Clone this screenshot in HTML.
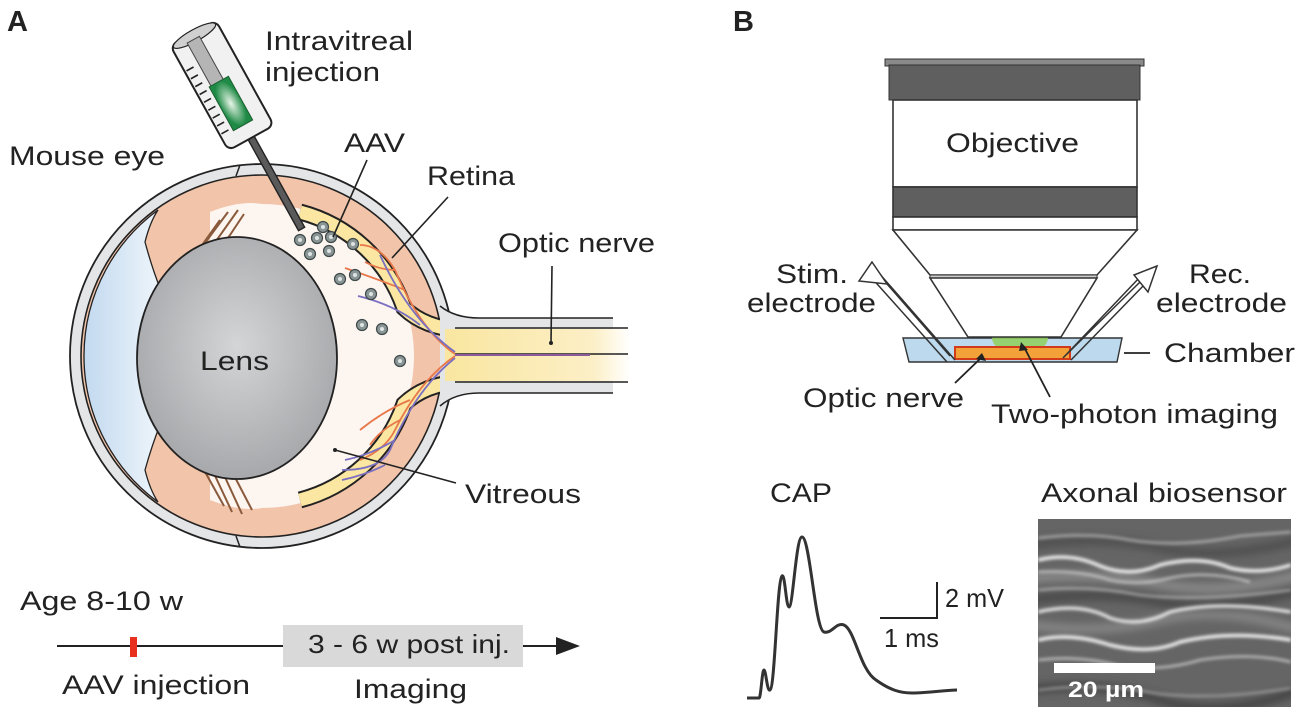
<!DOCTYPE html>
<html><head><meta charset="utf-8"><style>
html,body{margin:0;padding:0;background:#fff;}
svg{display:block;}
text{font-family:"Liberation Sans",Arial,sans-serif;fill:#222;}
</style></head><body>
<svg width="1300" height="716" viewBox="0 0 1300 716" xmlns="http://www.w3.org/2000/svg">
<defs>
<radialGradient id="lensG" cx="0.5" cy="0.45" r="0.6"><stop offset="0" stop-color="#d4d5d7"/><stop offset="1" stop-color="#a3a4a7"/></radialGradient>
<linearGradient id="blueG" x1="0" x2="1"><stop offset="0" stop-color="#c2d9ef"/><stop offset="1" stop-color="#eef5fb"/></linearGradient>
<linearGradient id="nerveG" x1="0" x2="1"><stop offset="0" stop-color="#f9e6a0"/><stop offset="0.8" stop-color="#fcefc6"/><stop offset="1" stop-color="#fff"/></linearGradient>
<radialGradient id="greenG" cx="0.5" cy="0.5" r="0.5"><stop offset="0" stop-color="#e8f5e8"/><stop offset="1" stop-color="#1e8a45"/></radialGradient>
<clipPath id="vitClip"><rect x="235" y="150" width="300" height="420"/></clipPath>
<clipPath id="imgClip"><rect x="1038" y="519" width="253" height="188"/></clipPath>
<filter id="blur1"><feGaussianBlur stdDeviation="1.6"/></filter>
<filter id="blur2"><feGaussianBlur stdDeviation="4"/></filter>
<g id="aav"><circle r="5.5" fill="#8a9596" stroke="#3e4849" stroke-width="1.2"/><circle r="2" fill="#dfe5e5"/></g>
</defs>

<text x="7" y="31" font-size="29" font-weight="bold" fill="#111">A</text>
<text x="733" y="31" font-size="29" font-weight="bold" fill="#111">B</text>

<!-- EYE -->
<circle cx="262" cy="356" r="192" fill="#e4e5e7" stroke="#222" stroke-width="1.8"/>
<circle cx="262" cy="356" r="181" fill="#f2c4a9" stroke="#222" stroke-width="1.6"/>
<circle cx="262" cy="356" r="152" fill="#fdf5f0" clip-path="url(#vitClip)"/>
<path d="M210 212 Q240 200 262 204 L262 508 Q240 512 210 500Z" fill="#fdf5f0"/>
<path d="M158 210 A181 181 0 0 0 158 502 Q150 490 145 470 Q152 445 160 425 Q148 390 150 356 Q148 320 160 288 Q152 268 145 242 Q150 222 158 210Z" fill="url(#blueG)" stroke="#222" stroke-width="1.3"/>
<line x1="240" y1="165" x2="236" y2="176" stroke="#222" stroke-width="1.5"/>
<line x1="240" y1="547" x2="236" y2="536" stroke="#222" stroke-width="1.5"/>
<!-- zonules -->
<g stroke="#8a5a3c" stroke-width="2" fill="none">
<path d="M196 255 L228 212 M204 258 L238 210 M212 262 L244 214 M190 262 L220 220"/>
<path d="M210 465 L232 512 M218 462 L242 514 M226 460 L252 510 M204 470 L224 506"/>
</g>
<!-- retina band -->
<path d="M300 212 A150 150 0 0 1 404 308 Q425 328 460 330" fill="none" stroke="#222" stroke-width="17"/>
<path d="M300 212 A150 150 0 0 1 404 308 Q425 328 460 330" fill="none" stroke="#fbe7a1" stroke-width="13"/>
<path d="M300 500 A150 150 0 0 0 404 404 Q425 384 460 382" fill="none" stroke="#222" stroke-width="17"/>
<path d="M300 500 A150 150 0 0 0 404 404 Q425 384 460 382" fill="none" stroke="#fbe7a1" stroke-width="13"/>
<!-- optic nerve -->
<path d="M440 306 Q455 318 479 318 L613 318 L613 393 L479 393 Q455 393 440 406Z" fill="#e4e5e7"/>
<line x1="479" y1="318" x2="613" y2="318" stroke="#222" stroke-width="1.6"/>
<line x1="479" y1="393" x2="613" y2="393" stroke="#222" stroke-width="1.6"/>
<path d="M440 306 Q455 318 479 318" fill="none" stroke="#222" stroke-width="1.6"/>
<path d="M440 406 Q455 393 479 393" fill="none" stroke="#222" stroke-width="1.6"/>
<rect x="445" y="329" width="185" height="52" fill="url(#nerveG)"/>
<line x1="455" y1="328" x2="628" y2="328" stroke="#222" stroke-width="1.6"/>
<line x1="455" y1="382" x2="628" y2="382" stroke="#222" stroke-width="1.6"/>
<line x1="455" y1="354" x2="628" y2="354" stroke="#222" stroke-width="1.4"/>
<line x1="455" y1="355" x2="590" y2="355" stroke="#8a5a9a" stroke-width="2"/>
<g fill="none" stroke-width="1.8">
<path d="M455 354 Q420 330 395 270 Q380 245 360 245" stroke="#e8774a"/>
<path d="M395 270 Q380 270 365 262 M405 290 Q380 280 345 268" stroke="#e8774a"/>
<path d="M455 352 Q410 320 380 255" stroke="#7a6fc0"/>
<path d="M420 325 Q395 305 358 296" stroke="#7a6fc0"/>
<path d="M455 356 Q420 380 395 430 Q385 450 360 460" stroke="#e8774a"/>
<path d="M410 400 Q385 410 360 430 M400 420 Q380 430 370 445" stroke="#e8774a"/>
<path d="M455 358 Q415 390 390 450 Q380 470 342 470" stroke="#7a6fc0"/>
<path d="M395 440 Q370 455 345 460 M385 465 Q365 475 342 480" stroke="#7a6fc0"/>
</g>
<ellipse cx="237" cy="358" rx="100" ry="121" fill="url(#lensG)" stroke="#222" stroke-width="1.8"/>
<text x="200" y="370" font-size="27" textLength="69" lengthAdjust="spacingAndGlyphs">Lens</text>
<use href="#aav" x="300" y="240"/><use href="#aav" x="317" y="238"/><use href="#aav" x="331" y="237"/>
<use href="#aav" x="323" y="227"/><use href="#aav" x="310" y="254"/><use href="#aav" x="329" y="251"/>
<use href="#aav" x="353" y="244"/><use href="#aav" x="340" y="279"/><use href="#aav" x="355" y="275"/>
<use href="#aav" x="371" y="294"/><use href="#aav" x="362" y="325"/><use href="#aav" x="382" y="329"/>
<use href="#aav" x="400" y="361"/>

<g transform="translate(193,33) rotate(-29)">
  <rect x="-3.5" y="118" width="7" height="106" fill="#5a5a5a" stroke="#222" stroke-width="1.4"/>
  <rect x="-26" y="0" width="52" height="120" rx="7" fill="#f1f1f1" stroke="#222" stroke-width="2"/>
  <ellipse cx="0" cy="3" rx="24" ry="6" fill="#d0d0d0" stroke="#222" stroke-width="1.2"/>
  <rect x="-10" y="6" width="14" height="52" fill="#b5b5b5" stroke="#444" stroke-width="1"/>
  <rect x="-12" y="55" width="22" height="50" fill="url(#greenG)" stroke="#1c5e30" stroke-width="1"/>
  <g stroke="#222" stroke-width="1.6">
  <line x1="-24" y1="30" x2="-16" y2="30"/><line x1="-24" y1="39" x2="-16" y2="39"/><line x1="-24" y1="48" x2="-16" y2="48"/>
  <line x1="-24" y1="57" x2="-16" y2="57"/><line x1="-24" y1="66" x2="-16" y2="66"/><line x1="-24" y1="75" x2="-16" y2="75"/>
  <line x1="-24" y1="84" x2="-16" y2="84"/><line x1="-24" y1="93" x2="-16" y2="93"/><line x1="-24" y1="102" x2="-16" y2="102"/>
  </g>
</g>

<text x="265" y="50" font-size="27" textLength="148" lengthAdjust="spacingAndGlyphs">Intravitreal</text>
<text x="265" y="81" font-size="27" textLength="115" lengthAdjust="spacingAndGlyphs">injection</text>
<text x="9" y="165" font-size="27" textLength="156" lengthAdjust="spacingAndGlyphs">Mouse eye</text>
<text x="344" y="152" font-size="27" textLength="61" lengthAdjust="spacingAndGlyphs">AAV</text>
<text x="427" y="185" font-size="27" textLength="88" lengthAdjust="spacingAndGlyphs">Retina</text>
<text x="498" y="252" font-size="27" textLength="157" lengthAdjust="spacingAndGlyphs">Optic nerve</text>
<text x="465" y="503" font-size="27" textLength="116" lengthAdjust="spacingAndGlyphs">Vitreous</text>
<g stroke="#222" stroke-width="1.6">
<line x1="367" y1="160" x2="333" y2="237"/>
<line x1="448" y1="197" x2="392" y2="258"/>
<line x1="552" y1="266" x2="551" y2="343"/>
<line x1="335" y1="450" x2="456" y2="483"/>
</g>
<circle cx="551" cy="343" r="2" fill="#222"/><circle cx="335" cy="450" r="2" fill="#222"/>

<text x="20" y="610" font-size="27" textLength="163" lengthAdjust="spacingAndGlyphs">Age 8-10 w</text>
<line x1="57" y1="646" x2="283" y2="646" stroke="#222" stroke-width="2"/>
<rect x="130" y="637" width="7" height="20" fill="#e8301e"/>
<rect x="283" y="625" width="240" height="42" fill="#d9d9d9"/>
<text x="308" y="653" font-size="26" textLength="202" lengthAdjust="spacingAndGlyphs">3 - 6 w post inj.</text>
<line x1="523" y1="646" x2="560" y2="646" stroke="#222" stroke-width="2"/>
<polygon points="556,637 580,646 556,655" fill="#222"/>
<text x="62" y="694" font-size="27" textLength="188" lengthAdjust="spacingAndGlyphs">AAV injection</text>
<text x="354" y="698" font-size="27" textLength="113" lengthAdjust="spacingAndGlyphs">Imaging</text>

<!-- OBJECTIVE -->
<rect x="885" y="59" width="259" height="7" fill="#8a8a8a" stroke="#333" stroke-width="1"/>
<rect x="889" y="65" width="251" height="35" fill="#5f5f60" stroke="#333" stroke-width="1"/>
<rect x="893" y="100" width="244" height="87" fill="#fff" stroke="#333" stroke-width="1.6"/>
<rect x="893" y="187" width="244" height="30" fill="#5f5f60" stroke="#333" stroke-width="1.6"/>
<rect x="893" y="217" width="244" height="13" fill="#fff" stroke="#333" stroke-width="1.6"/>
<polygon points="893,230 1137,230 1097,275 930,275" fill="#fff" stroke="#333" stroke-width="1.6"/>
<rect x="930" y="275" width="167" height="3" fill="#ccc" stroke="#333" stroke-width="1"/>
<text x="946" y="152" font-size="27" textLength="133" lengthAdjust="spacingAndGlyphs">Objective</text>

<polygon points="903,338 1122,338 1117,362 909,362" fill="#bcd9ee" stroke="#333" stroke-width="1.4"/>
<ellipse cx="1020" cy="338" rx="28" ry="16" fill="#8fcf5a" opacity="0.85"/>
<polygon points="955,347 1070,347 1070,359 955,359" fill="#f3a23a" stroke="#d23a1a" stroke-width="2"/>
<polygon points="930,278 1097,278 1061,337 968,337" fill="#fff" stroke="#333" stroke-width="1.6"/>
<g fill="none" stroke="#333" stroke-width="1.5">
<path d="M955 360 L878 272 M947 362 L870 276 M950 356 L880 276"/>
<polygon points="872,262 887,284 859,281" fill="#fff"/>
<path d="M1063 358 L1140 277 M1071 360 L1147 282 M1066 355 L1140 282"/>
<polygon points="1157,266 1134,275 1148,292" fill="#fff"/>
</g>
<text x="776" y="283" font-size="27" textLength="72" lengthAdjust="spacingAndGlyphs">Stim.</text>
<text x="747" y="312" font-size="27" textLength="129" lengthAdjust="spacingAndGlyphs">electrode</text>
<text x="1189" y="283" font-size="27" textLength="62" lengthAdjust="spacingAndGlyphs">Rec.</text>
<text x="1156" y="312" font-size="27" textLength="131" lengthAdjust="spacingAndGlyphs">electrode</text>
<text x="1164" y="362" font-size="27" textLength="131" lengthAdjust="spacingAndGlyphs">Chamber</text>
<text x="803" y="407" font-size="27" textLength="161" lengthAdjust="spacingAndGlyphs">Optic nerve</text>
<text x="991" y="423" font-size="27" textLength="287" lengthAdjust="spacingAndGlyphs">Two-photon imaging</text>
<g stroke="#222" stroke-width="1.8">
<line x1="1124" y1="353" x2="1150" y2="353"/>
<line x1="955" y1="383" x2="982" y2="357"/>
<line x1="1050" y1="397" x2="1024" y2="347"/>
</g>
<polygon points="982,353 986,361 976,359" fill="#222"/>
<polygon points="1021,342 1028,350 1019,351" fill="#222"/>

<text x="770" y="502" font-size="27" textLength="62" lengthAdjust="spacingAndGlyphs">CAP</text>
<path d="M747 698 L759 698 C761 698 762 670 764 670 C766 670 767 692 770 690 C775 688 777 580 782 576 C785 573 786 607 789 607 C793 607 796 537 802 537 C810 537 815 630 824 632 C832 634 836 622 844 625 C855 630 860 670 876 680 C890 690 900 693 912 693 C930 693 945 690 957 690" fill="none" stroke="#333" stroke-width="3"/>
<path d="M937 582 L937 618 L880 618" fill="none" stroke="#222" stroke-width="2"/>
<text x="945" y="607" font-size="26" textLength="59" lengthAdjust="spacingAndGlyphs">2 mV</text>
<text x="884" y="647" font-size="26" textLength="55" lengthAdjust="spacingAndGlyphs">1 ms</text>

<text x="1041" y="502" font-size="27" textLength="246" lengthAdjust="spacingAndGlyphs">Axonal biosensor</text>
<g clip-path="url(#imgClip)">
<rect x="1038" y="519" width="253" height="188" fill="#656565"/>
<g filter="url(#blur2)" fill="none" stroke-width="9">
<path d="M1030 545 Q1100 535 1160 548 T1300 540" stroke="#4f4f4f"/>
<path d="M1030 600 Q1100 590 1160 602 T1300 590" stroke="#4a4a4a"/>
<path d="M1030 625 Q1100 635 1160 620 T1300 630" stroke="#858585"/>
<path d="M1030 690 Q1100 680 1160 700 T1300 690" stroke="#444"/>
<path d="M1030 578 Q1100 572 1160 584 T1300 575" stroke="#8a8a8a"/>
</g>
<g filter="url(#blur1)" fill="none" stroke="#f2f2f2">
<path d="M1038 560 Q1070 552 1100 566 Q1130 578 1160 565 Q1200 555 1230 568 Q1260 575 1291 565" stroke-width="3.5"/>
<path d="M1038 572 Q1080 570 1110 580 Q1140 586 1170 578 Q1210 570 1250 582" stroke-width="2" stroke="#d0d0d0"/>
<path d="M1038 538 Q1090 532 1130 540 Q1180 548 1240 536 L1291 532" stroke-width="2" stroke="#bbb"/>
<path d="M1038 612 Q1080 602 1110 618 Q1140 628 1170 612 Q1220 600 1291 612" stroke-width="3"/>
<path d="M1038 640 Q1070 632 1110 645 Q1150 655 1180 642 Q1230 630 1291 640" stroke-width="3.5"/>
<path d="M1038 660 Q1080 655 1120 666 Q1160 672 1200 660 Q1250 652 1291 662" stroke-width="2" stroke="#cfcfcf"/>
<path d="M1038 590 Q1090 585 1140 595 Q1200 602 1291 590" stroke-width="1.8" stroke="#bdbdbd"/>
<path d="M1038 690 Q1100 682 1160 694 Q1220 700 1291 688" stroke-width="1.8" stroke="#aaa"/>
</g>
<rect x="1054" y="663" width="101" height="10" fill="#fff"/>
<text x="1068" y="697" font-size="22" font-weight="bold" style="fill:#fff" textLength="76" lengthAdjust="spacingAndGlyphs">20 µm</text>
</g>
</svg>
</body></html>
